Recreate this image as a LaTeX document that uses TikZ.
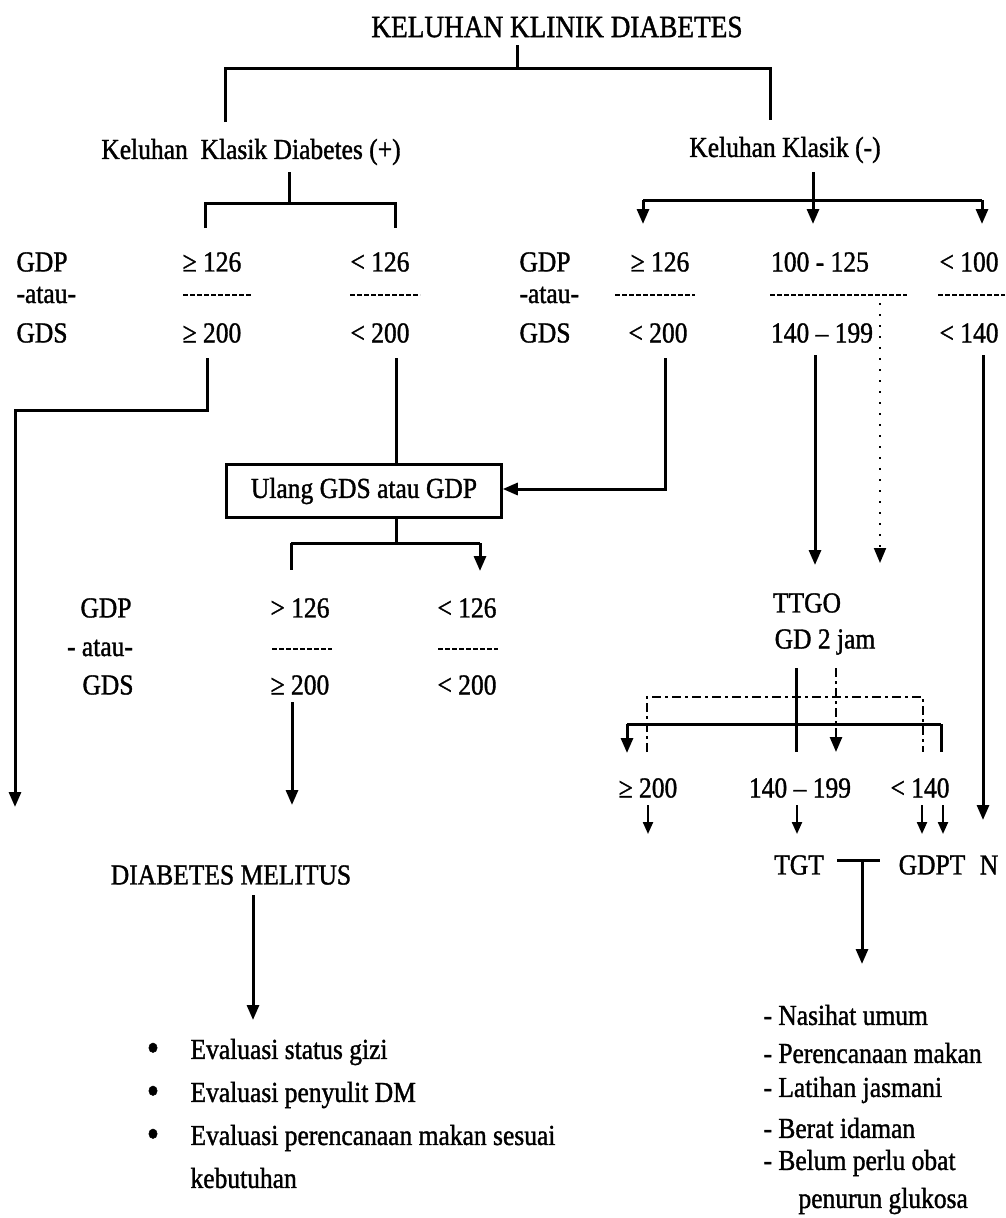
\documentclass[tikz,border=0pt]{standalone}
\usepackage{fontspec}
\setmainfont{Liberation Serif}[FakeStretch=0.88,FakeBold=1.2]
\usetikzlibrary{arrows.meta}
\begin{document}
\begin{tikzpicture}[x=1pt,y=-1pt,line width=3pt,
  txt/.style={inner sep=0pt,font=\fontsize{29}{34}\selectfont},
  ttl/.style={inner sep=0pt,font=\fontsize{31}{36}\selectfont},
  bul/.style={inner sep=0pt,font=\fontsize{40}{40}\selectfont},
  arr/.style={-{Triangle[width=12pt,length=15pt]}},
  sarr/.style={line width=2.2pt,-{Triangle[width=10pt,length=12pt]}},
  rule/.style={line width=2.2pt,dash pattern=on 5pt off 2pt},
  dotv/.style={line width=2pt,dash pattern=on 2pt off 9pt},
  dashdot/.style={line width=2.6pt,dash pattern=on 9pt off 4pt on 3pt off 4pt},
  boxed/.style={draw,line width=2.5pt,minimum width=275pt,minimum height=53pt,inner sep=0pt,font=\fontsize{29}{34}\selectfont}]
\fill[white] (0,0) rectangle (1005,1218);
\useasboundingbox (0,0) rectangle (1005,1218);

% ---- text nodes ----
\node[ttl] (title) at (557,27) {KELUHAN KLINIK DIABETES};
\node[txt] (kp) at (251,152) {Keluhan\ \ Klasik Diabetes (+)};
\node[txt] (km) at (785,150) {Keluhan Klasik (-)};

\node[txt,anchor=west] (gdpA) at (15,262) {GDP};
\node[txt,anchor=west] (atauA) at (15,295) {-atau-};
\node[txt,anchor=west] (gdsA) at (15,333) {GDS};
\node[txt] (geA) at (212,262) {≥ 126};
\node[txt] (geB) at (212,333) {≥ 200};
\node[txt] (ltA) at (380,262) {< 126};
\node[txt] (ltB) at (380,333) {< 200};

\node[txt,anchor=west] (gdpR) at (518,262) {GDP};
\node[txt,anchor=west] (atauR) at (518,295) {-atau-};
\node[txt,anchor=west] (gdsR) at (518,333) {GDS};
\node[txt] (rgeA) at (660,262) {≥ 126};
\node[txt] (rltB) at (658,333) {< 200};
\node[txt] (rmA) at (820,262) {100 - 125};
\node[txt] (rmB) at (822,333) {140 – 199};
\node[txt,anchor=west] (rlA) at (938,262) {< 100};
\node[txt,anchor=west] (rlB) at (938,333) {< 140};

\node[boxed] (box) at (364,491) {Ulang GDS atau GDP};

\node[txt] (gdpC) at (106,608) {GDP};
\node[txt] (atauC) at (100,648) {- atau-};
\node[txt] (gdsC) at (108,685) {GDS};
\node[txt] (cgA) at (300,608) {> 126};
\node[txt] (cgB) at (300,685) {≥ 200};
\node[txt] (clA) at (467,608) {< 126};
\node[txt] (clB) at (467,685) {< 200};

\node[txt] (ttgo) at (807,603) {TTGO};
\node[txt] (gd2) at (825,642) {GD 2 jam};
\node[txt] (t200) at (648,788) {≥ 200};
\node[txt] (t140) at (800,788) {140 – 199};
\node[txt] (tlt) at (920,788) {< 140};
\node[txt] (tgt) at (799,865) {TGT};
\node[txt] (gdpt) at (932,865) {GDPT};
\node[txt] (nn) at (989,865) {N};

\node[txt] (dm) at (231,875) {DIABETES MELITUS};
\node[bul] (bu1) at (153,1052) {•};
\node[bul] (bu2) at (153,1095) {•};
\node[bul] (bu3) at (153,1138) {•};
\node[txt,anchor=west] (ev1) at (189,1052) {Evaluasi status gizi};
\node[txt,anchor=west] (ev2) at (189,1095) {Evaluasi penyulit DM};
\node[txt,anchor=west] (ev3) at (189,1138) {Evaluasi perencanaan makan sesuai};
\node[txt,anchor=west] (ev4) at (189,1178) {kebutuhan};

\node[txt,anchor=west] (l1) at (762,1015) {- Nasihat umum};
\node[txt,anchor=west] (l2) at (762,1053) {- Perencanaan makan};
\node[txt,anchor=west] (l3) at (762,1090) {- Latihan jasmani};
\node[txt,anchor=west] (l4) at (762,1128) {- Berat idaman};
\node[txt,anchor=west] (l5) at (762,1163) {- Belum perlu obat};
\node[txt,anchor=west] (l6) at (797,1201) {penurun glukosa};

% ---- separator rules ----
\draw[rule] (183,295) -- (252,295);
\draw[rule] (350,295) -- (420,295);
\draw[rule] (615,295) -- (695,295);
\draw[rule] (770,295) -- (907,295);
\draw[rule] (938,295) -- (1005,295);
\draw[rule] (272,649) -- (332,649);
\draw[rule] (438,649) -- (498,649);

% ---- coordinates ----
\coordinate (t0) at (517,45); \coordinate (t1) at (517,68);
\coordinate (tl) at (225,68); \coordinate (tr) at (770,68);
\coordinate (tld) at (225,122); \coordinate (trd) at (770,120);
\coordinate (a0) at (289,172); \coordinate (a1) at (289,203);
\coordinate (al) at (205,203); \coordinate (ar) at (395,203);
\coordinate (ald) at (205,228); \coordinate (ard) at (395,228);
\coordinate (b0) at (813,172); \coordinate (b1) at (813,200);
\coordinate (bl) at (643,200); \coordinate (br) at (982,200);
\coordinate (c0) at (207,358); \coordinate (c1) at (207,410);
\coordinate (c2) at (15,410); \coordinate (c3) at (15,807);
\coordinate (d0) at (396,358);
\coordinate (e0) at (665,358); \coordinate (e1) at (665,489);
\coordinate (f0) at (815,355); \coordinate (f1) at (815,565);
\coordinate (g0) at (880,303); \coordinate (g1) at (880,563);
\coordinate (h0) at (983,355); \coordinate (h1) at (983,820);
\coordinate (k1) at (396,543); \coordinate (kl) at (291,543); \coordinate (kr) at (480,543);
\coordinate (m0) at (292,702); \coordinate (m1) at (292,805);
\coordinate (n0) at (253,895); \coordinate (n1) at (253,1020);
\coordinate (p0) at (796,668); \coordinate (p1) at (796,752);
\coordinate (q0) at (836,668); \coordinate (q1) at (836,752);
\coordinate (s0) at (627,724); \coordinate (s1) at (941,724);
\coordinate (u0) at (837,860); \coordinate (u1) at (880,860);
\coordinate (u2) at (862,860); \coordinate (u3) at (862,964);

% ---- connectors ----
\draw (t0) -- (t1);
\draw (tld) -- (tl) -- (tr) -- (trd);
\draw (a0) -- (a1);
\draw (ald) -- (al) -- (ar) -- (ard);
\draw (b0) -- (b1);
\draw (bl) -- (br);
\draw[arr] (bl) -- ++(0,24);
\draw[arr] (b1) -- ++(0,24);
\draw[arr] (br) -- ++(0,24);
\draw[arr] (c0) -- (c1) -- (c2) -- (c3);
\draw (d0) -- (d0 |- box.north);
\draw[arr] (e0) -- (e1) -- (e1 -| box.east);
\draw[arr] (f0) -- (f1);
\draw[arr,dotv] (g0) -- (g1);
\draw[arr] (h0) -- (h1);
\draw (k1 |- box.south) -- (k1);
\draw (kl) -- (kr);
\draw (kl) -- ++(0,27);
\draw[arr] (kr) -- ++(0,28);
\draw[arr] (m0) -- (m1);
\draw[arr] (n0) -- (n1);
\draw (p0) -- (p1);
\draw[arr,dashdot] (q0) -- (q1);
\draw[dashdot] (647,752) -- (647,697) -- (923,697) -- (923,752);
\draw (s0) -- (s1);
\draw[arr] (s0) -- ++(0,29);
\draw (s1) -- ++(0,28);
\draw[sarr] (648,805) -- (648,834);
\draw[sarr] (797,805) -- (797,834);
\draw[sarr] (922,805) -- (922,834);
\draw[sarr] (943,805) -- (943,834);
\draw (u0) -- (u1);
\draw[arr] (u2) -- (u3);
\end{tikzpicture}
\end{document}
